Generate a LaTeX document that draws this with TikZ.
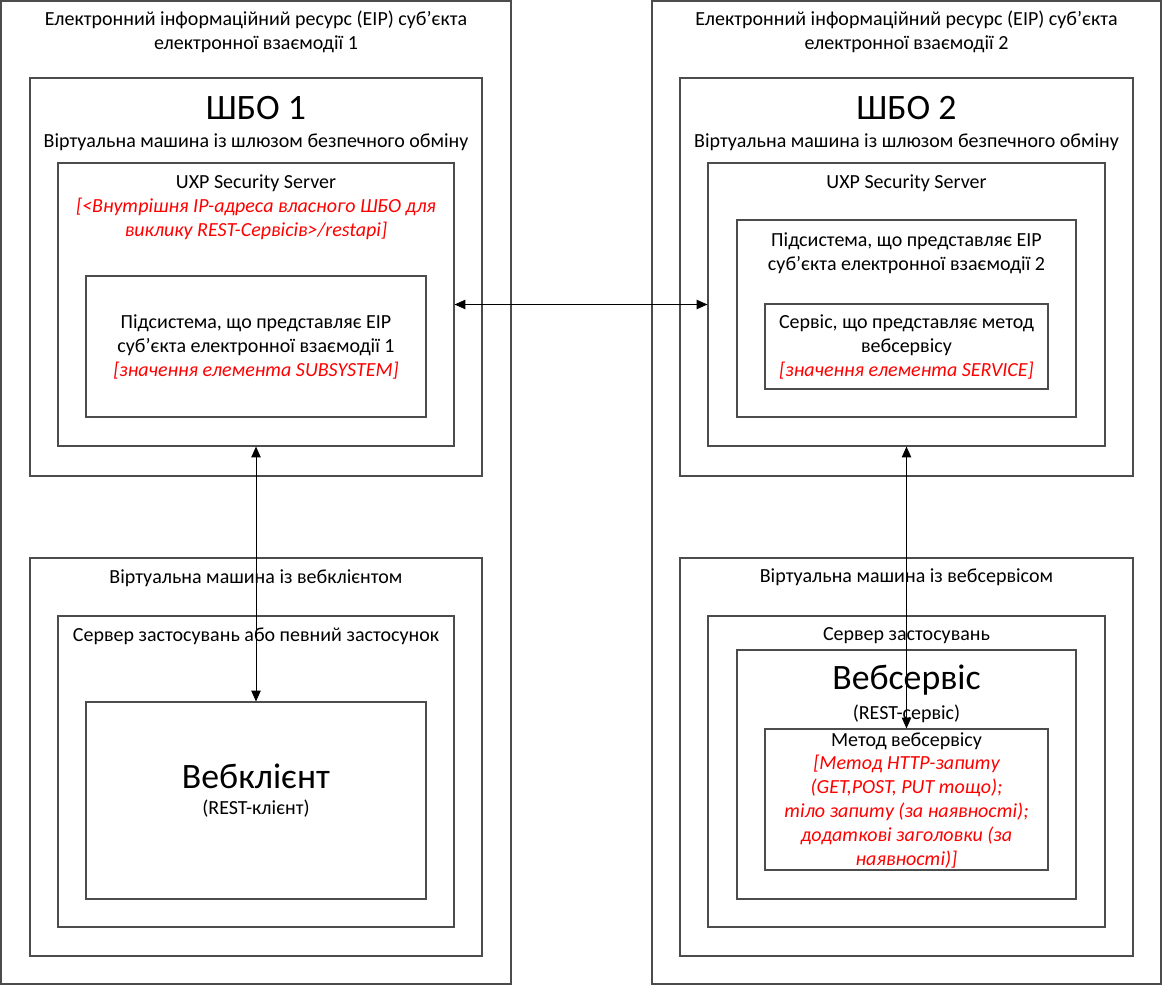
\documentclass[tikz,border=0pt]{standalone}
\usepackage{fontspec}
\setmainfont{Carlito}
\usetikzlibrary{
    arrows.meta,
    positioning
}

\begin{document}
\begin{tikzpicture}[x=0.75pt, y=-0.75pt,
    box/.style={draw=black!70, line width=0.9pt, inner sep=0pt},
    txt/.style={align=center, inner sep=0pt, font=\fontsize{15}{18}\selectfont},
    big/.style={inner sep=0pt, font=\fontsize{26.8}{30}\selectfont},
    hint/.style={txt, text=red, font=\fontsize{15}{18}\selectfont\itshape},
    link/.style={{Triangle[length=8pt,width=7pt]}-{Triangle[length=8pt,width=7pt]}, line width=0.6pt}]
    \useasboundingbox (0,0) rectangle (1163,985);

    % left side: subject 1
    \node[box, minimum width=382.5pt, minimum height=737.25pt] (eir1) at (256,492.5) {};
    \node[box, minimum width=339pt, minimum height=298.5pt] (shbo1) at (256,277) {};
    \node[box, minimum width=297pt, minimum height=212.25pt] (uxp1) at (256,304.5) {};
    \node[box, minimum width=255pt, minimum height=105.75pt] (sub1) at (256,346.5) {};
    \node[box, minimum width=339pt, minimum height=298.5pt] (vmc) at (256,757) {};
    \node[box, minimum width=297pt, minimum height=233.25pt] (appc) at (256,771.5) {};
    \node[box, minimum width=255pt, minimum height=147.75pt] (client) at (256,800.5) {};

    \node[txt] (eir1t) at (256,32) {Електронний інформаційний ресурс (ЕІР) суб’єкта\\електронної взаємодії 1};
    \node[big] (shbo1t) at (256,108) {ШБО 1};
    \node[txt] (shbo1s) at (256,142) {Віртуальна машина із шлюзом безпечного обміну};
    \node[txt] (uxp1t) at (256,183) {UXP Security Server};
    \node[hint] (uxp1h) at (256,219) {[<Внутрішня IP-адреса власного ШБО для\\виклику REST-Сервісів>/restapi]};
    \node[txt] (sub1t) at (256,347) {Підсистема, що представляє ЕІР\\суб’єкта електронної взаємодії 1\\{\itshape\color{red}[значення елемента SUBSYSTEM]}};
    \node[txt] (vmct) at (256,578) {Віртуальна машина із вебклієнтом};
    \node[txt] (appct) at (256,636) {Сервер застосувань або певний застосунок};
    \node[big] (clientt) at (256,776) {Вебклієнт};
    \node[txt] (clients) at (256,809) {(REST-клієнт)};

    % right side: subject 2
    \node[box, minimum width=381.75pt, minimum height=737.25pt] (eir2) at (906.5,492.5) {};
    \node[box, minimum width=339.75pt, minimum height=298.5pt] (shbo2) at (906.5,277) {};
    \node[box, minimum width=297.75pt, minimum height=212.25pt] (uxp2) at (906.5,304.5) {};
    \node[box, minimum width=254.25pt, minimum height=147.75pt] (sub2) at (906.5,318.5) {};
    \node[box, minimum width=212.25pt, minimum height=63.75pt] (svc) at (906.5,346.5) {};
    \node[box, minimum width=339.75pt, minimum height=298.5pt] (vms) at (906.5,757) {};
    \node[box, minimum width=297.75pt, minimum height=233.25pt] (apps) at (906.5,771.5) {};
    \node[box, minimum width=254.25pt, minimum height=186.75pt] (ws) at (906.5,774.5) {};
    \node[box, minimum width=212.25pt, minimum height=105.75pt] (method) at (906.5,799.5) {};

    \node[txt] (eir2t) at (906.5,32) {Електронний інформаційний ресурс (ЕІР) суб’єкта\\електронної взаємодії 2};
    \node[big] (shbo2t) at (906.5,108) {ШБО 2};
    \node[txt] (shbo2s) at (906.5,142) {Віртуальна машина із шлюзом безпечного обміну};
    \node[txt] (uxp2t) at (906.5,183) {UXP Security Server};
    \node[txt] (sub2t) at (906.5,253) {Підсистема, що представляє ЕІР\\суб’єкта електронної взаємодії 2};
    \node[txt] (svct) at (906.5,347) {Сервіс, що представляє метод\\вебсервісу\\{\itshape\color{red}[значення елемента SERVICE]}};
    \node[txt] (vmst) at (906.5,577) {Віртуальна машина із вебсервісом};
    \node[txt] (appst) at (906.5,636) {Сервер застосувань};
    \node[big] (wst) at (906.5,680) {Вебсервіс};
    \node[txt] (wss) at (906.5,714) {(REST-сервіс)};
    \node[txt] (methodt) at (906.5,741) {Метод вебсервісу};
    \node[hint] (methodh) at (906.5,812) {[Метод HTTP-запиту\\(GET,POST, PUT тощо);\\тіло запиту (за наявності);\\додаткові заголовки (за\\наявності)]};

    % connections
    \draw[link] (uxp1.east) -- (uxp2.west);
    \draw[link] (uxp1.south) -- (client.north);
    \draw[link] (uxp2.south) -- (method.north);
\end{tikzpicture}
\end{document}
